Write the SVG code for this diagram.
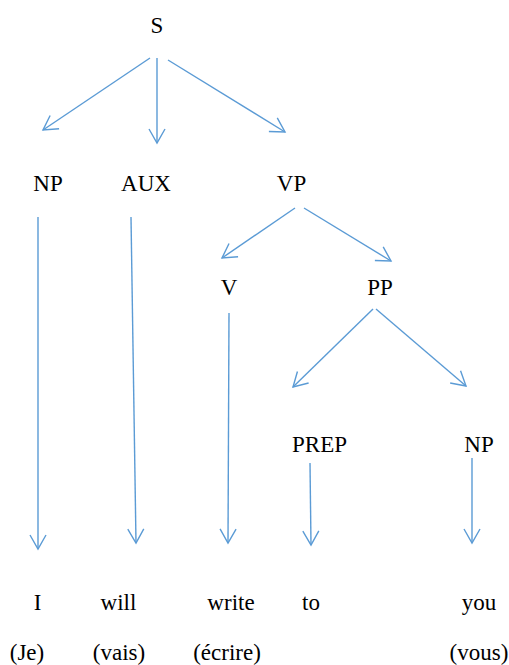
<svg xmlns="http://www.w3.org/2000/svg" width="509" height="665" viewBox="0 0 509 665">
<defs>
<style>
text{font-family:"Liberation Serif","Times New Roman",serif;font-size:23px;fill:#000;text-anchor:middle}
.c line{stroke:#5B9BD5;stroke-width:1.4;fill:none}
</style>
<marker id="ah" markerUnits="userSpaceOnUse" markerWidth="20" markerHeight="20" viewBox="-16 -10 18 20" refX="0" refY="0" orient="auto">
<path d="M-14,-8 L0,0 L-14,8" fill="none" stroke="#5B9BD5" stroke-width="1.4"/>
</marker>
</defs>
<rect width="509" height="665" fill="#fff"/>
<g class="c" id="connectors">
<line x1="150" y1="58" x2="43" y2="130" marker-end="url(#ah)"/>
<line x1="157" y1="58" x2="157" y2="143" marker-end="url(#ah)"/>
<line x1="168" y1="60" x2="285" y2="132" marker-end="url(#ah)"/>
<line x1="295" y1="208" x2="222" y2="258" marker-end="url(#ah)"/>
<line x1="304" y1="208" x2="391" y2="261" marker-end="url(#ah)"/>
<line x1="373" y1="309" x2="293" y2="387" marker-end="url(#ah)"/>
<line x1="376" y1="309" x2="466" y2="386" marker-end="url(#ah)"/>
<line x1="38" y1="217" x2="38" y2="549" marker-end="url(#ah)"/>
<line x1="131" y1="217" x2="136" y2="543" marker-end="url(#ah)"/>
<line x1="229" y1="313" x2="228" y2="543" marker-end="url(#ah)"/>
<line x1="310" y1="463" x2="311" y2="545" marker-end="url(#ah)"/>
<line x1="472" y1="458" x2="472" y2="543" marker-end="url(#ah)"/>
</g>
<g id="S"><text x="157" y="33">S</text></g>
<g id="NP1"><text x="48" y="191">NP</text></g>
<g id="AUX"><text x="146" y="191">AUX</text></g>
<g id="VP"><text x="291.5" y="191">VP</text></g>
<g id="V"><text x="229" y="295">V</text></g>
<g id="PP"><text x="380" y="295">PP</text></g>
<g id="PREP"><text x="319.5" y="452">PREP</text></g>
<g id="NP2"><text x="479" y="452">NP</text></g>
<g id="I"><text x="37.5" y="610">I</text></g>
<g id="will"><text x="118.5" y="610">will</text></g>
<g id="write"><text x="231" y="610">write</text></g>
<g id="to"><text x="311" y="610">to</text></g>
<g id="you"><text x="479" y="610">you</text></g>
<g id="Je"><text x="27" y="660">(Je)</text></g>
<g id="vais"><text x="119" y="660">(vais)</text></g>
<g id="ecrire"><text x="227" y="660">(écrire)</text></g>
<g id="vous"><text x="479" y="660">(vous)</text></g>
</svg>
